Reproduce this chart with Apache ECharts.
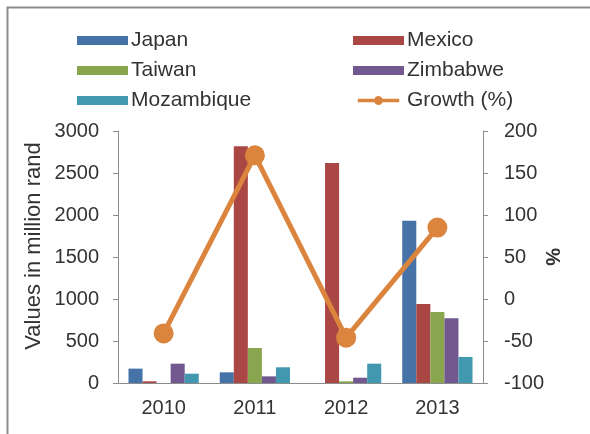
<!DOCTYPE html>
<html>
<head>
<meta charset="utf-8">
<script src="https://cdn.jsdelivr.net/npm/echarts@6/dist/echarts.min.js"></script>
<style>
  html, body { margin: 0; padding: 0; background: #fff; }
  #chart { width: 590px; height: 434px; }
</style>
</head>
<body>
<div id="chart"></div>
<script>
const years = ['2010', '2011', '2012', '2013']
const japan = [171, 127, 0, 1932]
const mexico = [20, 2817, 2619, 940]
const taiwan = [0, 417, 20, 845]
const zimbabwe = [230, 79, 63, 770]
const mozambique = [111, 187, 230, 310]
const growth = [-41, 171, -46, 85]

const colors = {
  japan: '#4572A7',
  mexico: '#AA4643',
  taiwan: '#89A54E',
  zimbabwe: '#71588F',
  mozambique: '#4198AF',
  growth: '#DB843D',
}

const chart = echarts.init(document.getElementById('chart'))

const font = 'Liberation Sans, Arial, sans-serif'
const textColor = '#333'
const axisColor = '#8c8c8c'

const bar = (name, data, color) => ({
  name,
  type: 'bar',
  data,
  yAxisIndex: 0,
  barGap: '0%',
  barCategoryGap: '23%',
  itemStyle: { color },
})

const legendBase = {
  orient: 'vertical',
  top: 30,
  padding: 0,
  itemWidth: 51,
  itemHeight: 9,
  itemGap: 9,
  icon: 'rect',
  textStyle: { fontSize: 21, color: textColor, fontFamily: font, padding: [0, 0, 0, -2] },
}

const lineIcon = 'path://M0,3H18.42A5,5 0 0 1 27.58,3H46V7H27.58A5,5 0 0 1 18.42,7H0Z'

const option = {
  animation: false,
  textStyle: { fontFamily: font },
  graphic: [
    {
      type: 'rect',
      shape: { x: 7.5, y: 7.5, width: 620, height: 460 },
      style: { fill: 'none', stroke: axisColor, lineWidth: 2 },
    },
  ],
  legend: [
    Object.assign({}, legendBase, {
      left: 77,
      data: ['Japan', 'Taiwan', 'Mozambique'],
    }),
    Object.assign({}, legendBase, {
      left: 353,
      data: ['Mexico', 'Zimbabwe', { name: 'Growth (%)', icon: lineIcon, itemHeight: 11 }],
    }),
  ],
  grid: {
    left: 118,
    right: 107,
    top: 131,
    bottom: 51,
  },
  xAxis: {
    type: 'category',
    data: years,
    axisLine: { lineStyle: { color: axisColor, width: 1 } },
    axisTick: { show: false },
    axisLabel: { fontSize: 20, color: textColor, margin: 15 },
  },
  yAxis: [
    {
      type: 'value',
      min: 0,
      max: 3000,
      interval: 500,
      name: 'Values in million rand',
      nameLocation: 'middle',
      nameGap: 73,
      nameRotate: 90,
      nameMoveOverlap: false,
      nameTextStyle: { fontSize: 22, color: textColor, padding: [0, 0, 0, 22] },
      axisLine: { show: true, lineStyle: { color: axisColor } },
      axisTick: { show: true, length: 5, lineStyle: { color: axisColor } },
      axisLabel: { fontSize: 20, color: textColor, margin: 19, formatter: (v) => String(v) },
      splitLine: { show: false },
    },
    {
      type: 'value',
      min: -100,
      max: 200,
      interval: 50,
      name: '%',
      nameLocation: 'middle',
      nameGap: 59,
      nameRotate: -90,
      nameMoveOverlap: false,
      nameTextStyle: { fontSize: 20, color: textColor, fontWeight: 'bold' },
      axisLine: { show: true, lineStyle: { color: axisColor } },
      axisTick: { show: true, length: 5, lineStyle: { color: axisColor } },
      axisLabel: { fontSize: 20, color: textColor, margin: 21, formatter: (v) => String(v) },
      splitLine: { show: false },
    },
  ],
  series: [
    bar('Japan', japan, colors.japan),
    bar('Mexico', mexico, colors.mexico),
    bar('Taiwan', taiwan, colors.taiwan),
    bar('Zimbabwe', zimbabwe, colors.zimbabwe),
    bar('Mozambique', mozambique, colors.mozambique),
    {
      name: 'Growth (%)',
      type: 'line',
      yAxisIndex: 1,
      data: growth,
      symbol: 'circle',
      symbolSize: 20,
      lineStyle: { width: 5, color: colors.growth },
      itemStyle: { color: colors.growth },
    },
  ],
}

chart.setOption(option)
</script>
</body>
</html>
